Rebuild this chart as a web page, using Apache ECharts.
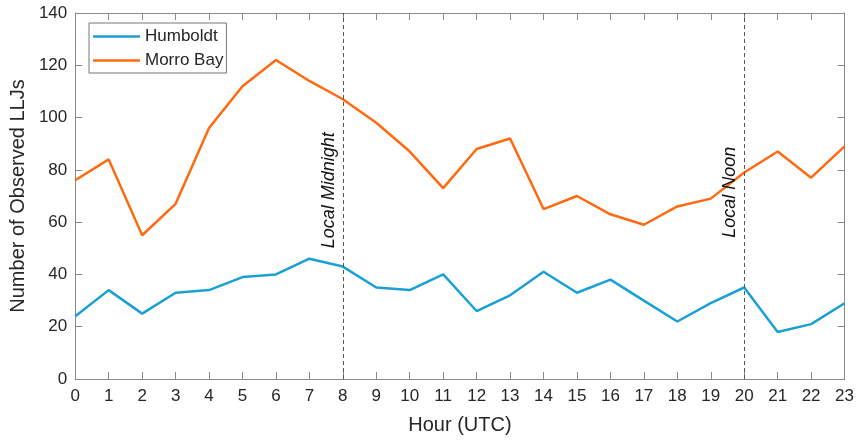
<!DOCTYPE html>
<html><head><meta charset="utf-8">
<script src="https://cdn.jsdelivr.net/npm/echarts@6/dist/echarts.min.js"></script>
<style>html,body{margin:0;padding:0;background:#fff}#c{width:857px;height:441px}</style>
</head><body><div id="c"></div>
<script>
const hours = [0,1,2,3,4,5,6,7,8,9,10,11,12,13,14,15,16,17,18,19,20,21,22,23];
const humboldt = [24,34,25,33,34,39,40,46,43,35,34,40,26,32,41,33,38,30,22,29,35,18,21,29];
const morroBay = [76,84,55,67,96,112,122,114,107,98,87,73,88,92,65,70,63,59,66,69,79,87,77,89];
const seriesNames = ['Humboldt','Morro Bay'];
const eventHours = [8, 20];
const eventLabels = ['Local Midnight','Local Noon'];
const eventLabelY = [50, 54];

const FONT = "'Liberation Sans', Arial, Helvetica, sans-serif";
const AX = '#8a8a8a';
const TXT = '#262626';
const blue = '#1aa0d6';
const orange = '#ff6a10';

const chart = echarts.init(document.getElementById('c'), null, {renderer:'canvas'});

function xAx(pos, showLabel){
  return {
    type:'value', position:pos, min:0, max:23, interval:1, gridIndex:0,
    axisLine:{show:true, onZero:false, lineStyle:{color:AX, width:1}},
    axisTick:{show:true, inside:true, length:7, lineStyle:{color:AX}},
    axisLabel:{show:showLabel, color:TXT, fontSize:17, fontFamily:FONT, margin:9},
    splitLine:{show:false},
    name: showLabel ? 'Hour (UTC)' : '',
    nameLocation:'middle', nameGap:36,
    nameTextStyle:{color:TXT, fontSize:20, fontFamily:FONT}
  };
}
function yAx(pos, showLabel){
  return {
    type:'value', position:pos, min:0, max:140, interval:20, gridIndex:0,
    axisLine:{show:true, onZero:false, lineStyle:{color:AX, width:1}},
    axisTick:{show:true, inside:true, length:7, lineStyle:{color:AX}},
    axisLabel:{show:showLabel, color:TXT, fontSize:17, fontFamily:FONT, margin:8},
    splitLine:{show:false},
    name: showLabel ? 'Number of Observed LLJs' : '',
    nameLocation:'middle', nameGap:44,
    nameTextStyle:{color:TXT, fontSize:20, fontFamily:FONT}
  };
}

const option = {
  animation:false,
  backgroundColor:'#fff',
  grid:{left:74, right:9, top:13, bottom:62, containLabel:false},
  xAxis:[xAx('bottom', true), xAx('top', false)],
  yAxis:[yAx('left', true), yAx('right', false)],
  legend:{
    data:seriesNames.map(n=>({name:n, icon:'rect'})),
    orient:'vertical', left:89, top:23,
    itemWidth:47, itemHeight:2.5, itemGap:7,
    padding:[5,3,4,4],
    borderColor:'#777', borderWidth:1, backgroundColor:'#fff',
    textStyle:{color:TXT, fontSize:17, fontFamily:FONT}
  },
  series:[
    {
      name:seriesNames[0], type:'line', xAxisIndex:0, yAxisIndex:0,
      data:hours.map((h,i)=>[h, humboldt[i]]),
      showSymbol:false, symbol:'none',
      lineStyle:{color:blue, width:2.5}, itemStyle:{color:blue},
      markLine:{
        silent:true, symbol:['none','none'], label:{show:false},
        lineStyle:{color:'#555', width:1, type:[4,3]},
        data:eventHours.map(h=>({xAxis:h}))
      }
    },
    {
      name:seriesNames[1], type:'line', xAxisIndex:0, yAxisIndex:0,
      data:hours.map((h,i)=>[h, morroBay[i]]),
      showSymbol:false, symbol:'none',
      lineStyle:{color:orange, width:2.5}, itemStyle:{color:orange}
    }
  ]
};
chart.setOption(option);

const graphics = eventHours.map((h,i)=>{
  const p = chart.convertToPixel({gridIndex:0}, [h, eventLabelY[i]]);
  return {
    type:'text', x:p[0]-5, y:p[1], rotation:Math.PI/2, z:100,
    style:{
      text:eventLabels[i], fill:'#111', fontSize:18, fontStyle:'italic', fontFamily:FONT,
      align:'left', verticalAlign:'bottom', textAlign:'left', textVerticalAlign:'bottom'
    }
  };
});
chart.setOption({graphic:graphics});
</script></body></html>
